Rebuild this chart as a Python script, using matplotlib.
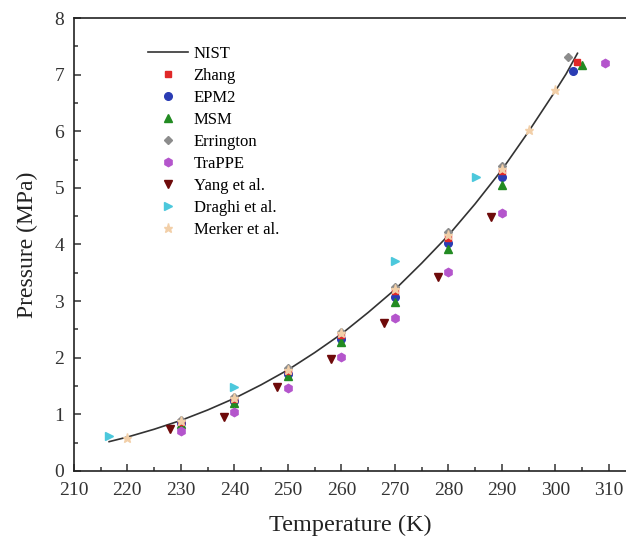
import matplotlib
matplotlib.use("Agg")
import matplotlib.pyplot as plt

plt.rcParams["font.family"] = ["Liberation Serif", "DejaVu Serif"]

# saturation pressure of CO2 (NIST reference curve)
nistT = [216.59, 220, 225, 230, 235, 240, 245, 250, 255, 260, 265, 270,
         275, 280, 285, 290, 295, 300, 302, 304.13]
nistP = [0.518, 0.599, 0.737, 0.893, 1.077, 1.283, 1.522, 1.785, 2.090, 2.419,
         2.799, 3.203, 3.669, 4.161, 4.718, 5.318, 5.996, 6.713, 7.012, 7.377]

zhangT = [230, 240, 250, 260, 270, 280, 290, 304.0]
zhangP = [0.87, 1.27, 1.77, 2.40, 3.17, 4.12, 5.30, 7.23]

epm2T = [230, 240, 250, 260, 270, 280, 290, 303.3]
epm2P = [0.85, 1.24, 1.72, 2.33, 3.08, 4.02, 5.19, 7.07]

msmT = [230, 240, 250, 260, 270, 280, 290, 305.0]
msmP = [0.83, 1.20, 1.67, 2.27, 2.99, 3.92, 5.05, 7.17]

erringtonT = [230, 240, 250, 260, 270, 280, 290, 302.4]
erringtonP = [0.90, 1.30, 1.81, 2.45, 3.25, 4.22, 5.39, 7.31]

trappeT = [230, 240, 250, 260, 270, 280, 290, 309.2]
trappeP = [0.71, 1.04, 1.47, 2.01, 2.70, 3.52, 4.56, 7.20]

yangT = [228, 238, 248, 258, 268, 278, 288]
yangP = [0.75, 0.96, 1.48, 1.97, 2.62, 3.43, 4.49]

draghiT = [216.6, 240, 270, 285.1]
draghiP = [0.62, 1.49, 3.70, 5.20]

merkerT = [220, 230, 240, 250, 260, 270, 280, 290, 295, 300]
merkerP = [0.58, 0.89, 1.29, 1.79, 2.43, 3.21, 4.17, 5.33, 6.02, 6.73]

fig = plt.figure(figsize=(6.26, 5.36), dpi=100)
ax = fig.add_axes([0.118, 0.1213, 0.882, 0.8451])

ax.plot(nistT, nistP, color="#333333", lw=1.2, label="NIST", zorder=2)

ms = 5.5
ax.plot(zhangT, zhangP, "s", color="#e02828", ms=ms - 0.5, ls="none", label="Zhang", zorder=4)
ax.plot(epm2T, epm2P, "o", color="#2a3cb4", ms=ms, ls="none", label="EPM2", zorder=3)
ax.plot(msmT, msmP, "^", color="#228b22", ms=ms, ls="none", label="MSM", zorder=3)
ax.plot(erringtonT, erringtonP, "D", color="#8c8c8c", ms=ms - 1, ls="none", label="Errington", zorder=5)
ax.plot(trappeT, trappeP, "h", color="#b455cc", ms=ms + 0.5, ls="none", label="TraPPE", zorder=3)
ax.plot(yangT, yangP, "v", color="#6e0a0a", ms=ms, ls="none", label="Yang et al.", zorder=3)
ax.plot(draghiT, draghiP, ">", color="#4cc8dc", ms=ms, ls="none", label="Draghi et al.", zorder=3)
ax.plot(merkerT, merkerP, "*", color="#f2cfa8", ms=ms + 1, ls="none", label="Merker et al.", zorder=6)

ax.set_xlim(210, 313.2)
ax.set_ylim(0, 8)
ax.set_xticks(range(210, 311, 10))
ax.set_yticks(range(0, 9))
ax.set_xticks([215 + 10 * i for i in range(10)], minor=True)
ax.set_yticks([0.5 + i for i in range(8)], minor=True)
ax.tick_params(which="both", direction="in", width=1.1, labelsize=14, colors="#333333")
ax.tick_params(which="major", length=5)
ax.tick_params(which="minor", length=3)
ax.tick_params(axis="x", pad=8)
ax.tick_params(axis="y", pad=7)
ax.spines["right"].set_visible(False)
for s in ["left", "bottom", "top"]:
    ax.spines[s].set_linewidth(1.2)
    ax.spines[s].set_color("#222222")

ax.set_xlabel("Temperature (K)", fontsize=17.5, labelpad=11, color="#222222")
ax.set_ylabel("Pressure (MPa)", fontsize=17, labelpad=12, color="#222222")

ax.legend(loc="upper left", bbox_to_anchor=(0.122, 0.953), frameon=False,
          fontsize=12, handlelength=2.4, handletextpad=0.35, labelspacing=0.36,
          borderaxespad=0.0)

fig.savefig("out.png", dpi=100)
